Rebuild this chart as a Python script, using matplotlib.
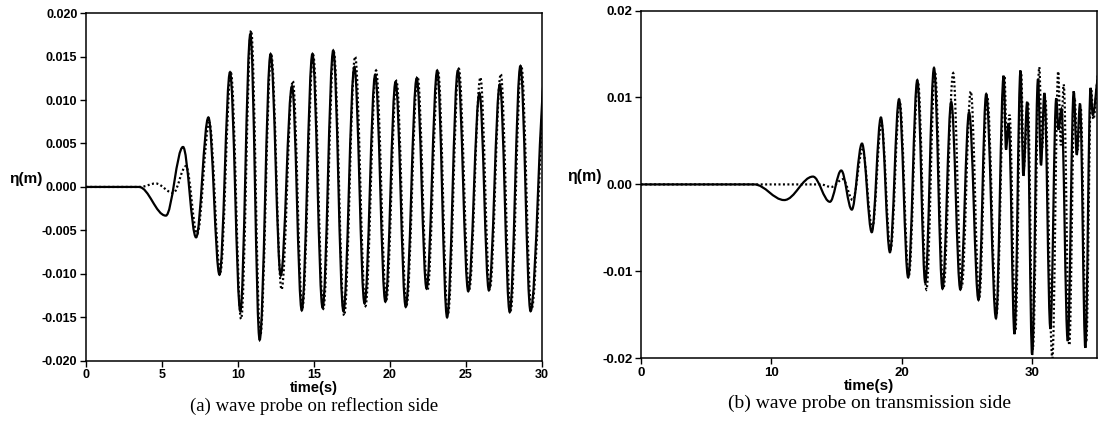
import matplotlib
matplotlib.use("Agg")
import matplotlib.pyplot as plt
from matplotlib.path import Path
from matplotlib.patches import PathPatch

# (a) reflection side: extrema (time s, eta m)
t_num_a = [0, 3.5, 5.27, 6.40, 7.26, 8.07, 8.80, 9.49, 10.17, 10.83,
           11.44, 12.16, 12.83, 13.57, 14.21, 14.91, 15.58, 16.28, 16.95, 17.67,
           18.34, 19.04, 19.71, 20.38, 21.05, 21.77, 22.42, 23.12, 23.77, 24.48,
           25.16, 25.90, 26.52, 27.24, 27.89, 28.59, 29.26, 30.25]
eta_num_a = [0, 0, -0.0033, 0.0046, -0.0058, 0.0080, -0.0101, 0.0132, -0.0143, 0.0176,
             -0.0176, 0.0153, -0.0102, 0.0116, -0.0142, 0.0153, -0.0139, 0.0157, -0.0143, 0.0138,
             -0.0134, 0.0129, -0.0132, 0.0121, -0.0138, 0.0125, -0.0117, 0.0134, -0.0150, 0.0134,
             -0.0120, 0.0108, -0.0119, 0.0118, -0.0144, 0.0139, -0.0143, 0.0135]
t_exp_a = [0, 3.6, 4.6, 5.75, 6.6, 7.33, 8.13, 8.85, 9.55, 10.22,
           10.88, 11.48, 12.2, 12.88, 13.62, 14.25, 14.96, 15.63, 16.32, 17.0,
           17.72, 18.4, 19.1, 19.77, 20.44, 21.1, 21.83, 22.48, 23.18, 23.82,
           24.54, 25.22, 25.96, 26.58, 27.3, 27.95, 28.65, 29.32, 30.3]
eta_exp_a = [0, 0, 0.0004, -0.0007, 0.0024, -0.0054, 0.0074, -0.0098, 0.0131, -0.0152,
             0.0180, -0.0172, 0.0152, -0.0118, 0.0122, -0.0139, 0.0152, -0.0140, 0.0155, -0.0148,
             0.0150, -0.0137, 0.0134, -0.0130, 0.0122, -0.0136, 0.0127, -0.0119, 0.0132, -0.0147,
             0.0136, -0.0118, 0.0126, -0.0117, 0.0130, -0.0142, 0.0140, -0.0141, 0.0138]

# (b) transmission side
t_num_b = [0, 8.7, 11.0, 13.2, 14.5, 15.37, 16.18, 16.96, 17.71, 18.41,
           19.10, 19.80, 20.50, 21.20, 21.81, 22.48, 23.13, 23.80, 24.50, 25.17,
           25.89, 26.48, 27.23, 27.82, 28.0, 28.2, 28.65, 29.11, 29.33, 29.62,
           30.0, 30.45, 30.68, 30.94, 31.4, 31.85, 32.02, 32.25, 32.73, 33.19,
           33.42, 33.67, 34.08, 34.48, 34.65, 35.1]
eta_num_b = [0, 0, -0.0018, 0.0009, -0.0020, 0.0016, -0.0029, 0.0047, -0.0055, 0.0077,
             -0.0078, 0.0098, -0.0107, 0.0120, -0.0113, 0.0134, -0.0120, 0.0095, -0.0121, 0.0083,
             -0.0133, 0.0104, -0.0154, 0.0125, 0.0040, 0.0070, -0.0172, 0.0131, 0.0010, 0.0095,
             -0.0196, 0.0121, 0.0022, 0.0105, -0.0166, 0.0099, 0.0063, 0.0087, -0.0180, 0.0107,
             0.0034, 0.0093, -0.0188, 0.0111, 0.0080, 0.0125]
t_exp_b = [0, 13.8, 14.6, 15.5, 16.25, 17.0, 17.75, 18.45, 19.15, 19.85,
           20.55, 21.25, 21.9, 22.55, 23.2, 23.95, 24.6, 25.3, 25.95, 26.55,
           27.27, 27.88, 28.05, 28.27, 28.72, 29.16, 29.36, 29.68, 30.05, 30.55,
           30.75, 31.0, 31.55, 32.0, 32.2, 32.42, 32.85, 33.25, 33.48, 33.72,
           34.15, 34.52, 34.7, 35.1]
eta_exp_b = [0, 0, -0.0003, 0.0006, -0.0018, 0.0040, -0.0050, 0.0070, -0.0075, 0.0095,
             -0.0105, 0.0118, -0.0121, 0.0130, -0.0120, 0.0128, -0.0118, 0.0107, -0.0130, 0.0102,
             -0.0150, 0.0125, 0.0050, 0.0080, -0.0168, 0.0128, 0.0020, 0.0095, -0.0190, 0.0135,
             0.0040, 0.0100, -0.0200, 0.0130, 0.0045, 0.0115, -0.0185, 0.0100, 0.0040, 0.0088,
             -0.0182, 0.0110, 0.0075, 0.0130]

yticks_a = [-0.020, -0.015, -0.010, -0.005, 0.000, 0.005, 0.010, 0.015, 0.020]
yticklabels_a = ["-0.020", "-0.015", "-0.010", "-0.005", "0.000", "0.005", "0.010", "0.015", "0.020"]
xticks_a = [0, 5, 10, 15, 20, 25, 30]
yticks_b = [-0.02, -0.01, 0.00, 0.01, 0.02]
yticklabels_b = ["-0.02", "-0.01", "0.00", "0.01", "0.02"]
xticks_b = [0, 10, 20, 30]

SANS = "Liberation Sans"
SERIF = "Liberation Serif"


# smooth curve through the extrema (horizontal tangent at each one)
def wave(ax, t, v, ls):
    verts = [(t[0], v[0])]
    codes = [Path.MOVETO]
    for i in range(1, len(t)):
        d = (t[i] - t[i - 1]) * 0.363
        verts += [(t[i - 1] + d, v[i - 1]), (t[i] - d, v[i]), (t[i], v[i])]
        codes += [Path.CURVE4] * 3
    ax.add_patch(PathPatch(Path(verts, codes), fill=False, edgecolor="black",
                           lw=1.6, linestyle=ls, transform=ax.transData))


def panel(ax, xmax, xticks, yticks, ylabels, caption, lab_x, fs):
    ax.set_xlim(0, xmax)
    ax.set_ylim(-0.02, 0.02)
    ax.set_xticks(xticks)
    ax.set_xticklabels([str(x) for x in xticks], fontfamily=SANS, fontweight="bold", fontsize=fs)
    ax.set_yticks(yticks)
    ax.set_yticklabels(ylabels, fontfamily=SANS, fontweight="bold", fontsize=fs)
    ax.tick_params(direction="out", length=4, width=1, pad=2)
    for s in ax.spines.values():
        s.set_linewidth(1.1)
    ax.set_xlabel("time(s)", fontfamily=SANS, fontweight="bold", fontsize=fs + 1.5, labelpad=0)
    ax.text(lab_x, 0.0009, "η(m)", transform=ax.get_yaxis_transform(), ha="right",
            va="center", fontfamily=SANS, fontweight="bold", fontsize=fs + 2)
    ax.text(0.5, -0.13, caption, transform=ax.transAxes, ha="center", va="center",
            fontfamily=SERIF, fontsize=fs + 4.5)


fig = plt.figure(figsize=(10.99, 4.22), dpi=100)
ax1 = fig.add_axes([0.078, 0.145, 0.415, 0.824])
ax2 = fig.add_axes([0.583, 0.151, 0.4155, 0.824])

wave(ax1, t_num_a, eta_num_a, "-")
wave(ax1, t_exp_a, eta_exp_a, (0, (0.9, 1.1)))
panel(ax1, 30, xticks_a, yticks_a, yticklabels_a, "(a) wave probe on reflection side", -0.095, 9)

wave(ax2, t_num_b, eta_num_b, "-")
wave(ax2, t_exp_b, eta_exp_b, (0, (0.9, 1.1)))
panel(ax2, 35, xticks_b, yticks_b, yticklabels_b, "(b) wave probe on transmission side", -0.085, 9.5)

plt.savefig("out.png", dpi=100)
